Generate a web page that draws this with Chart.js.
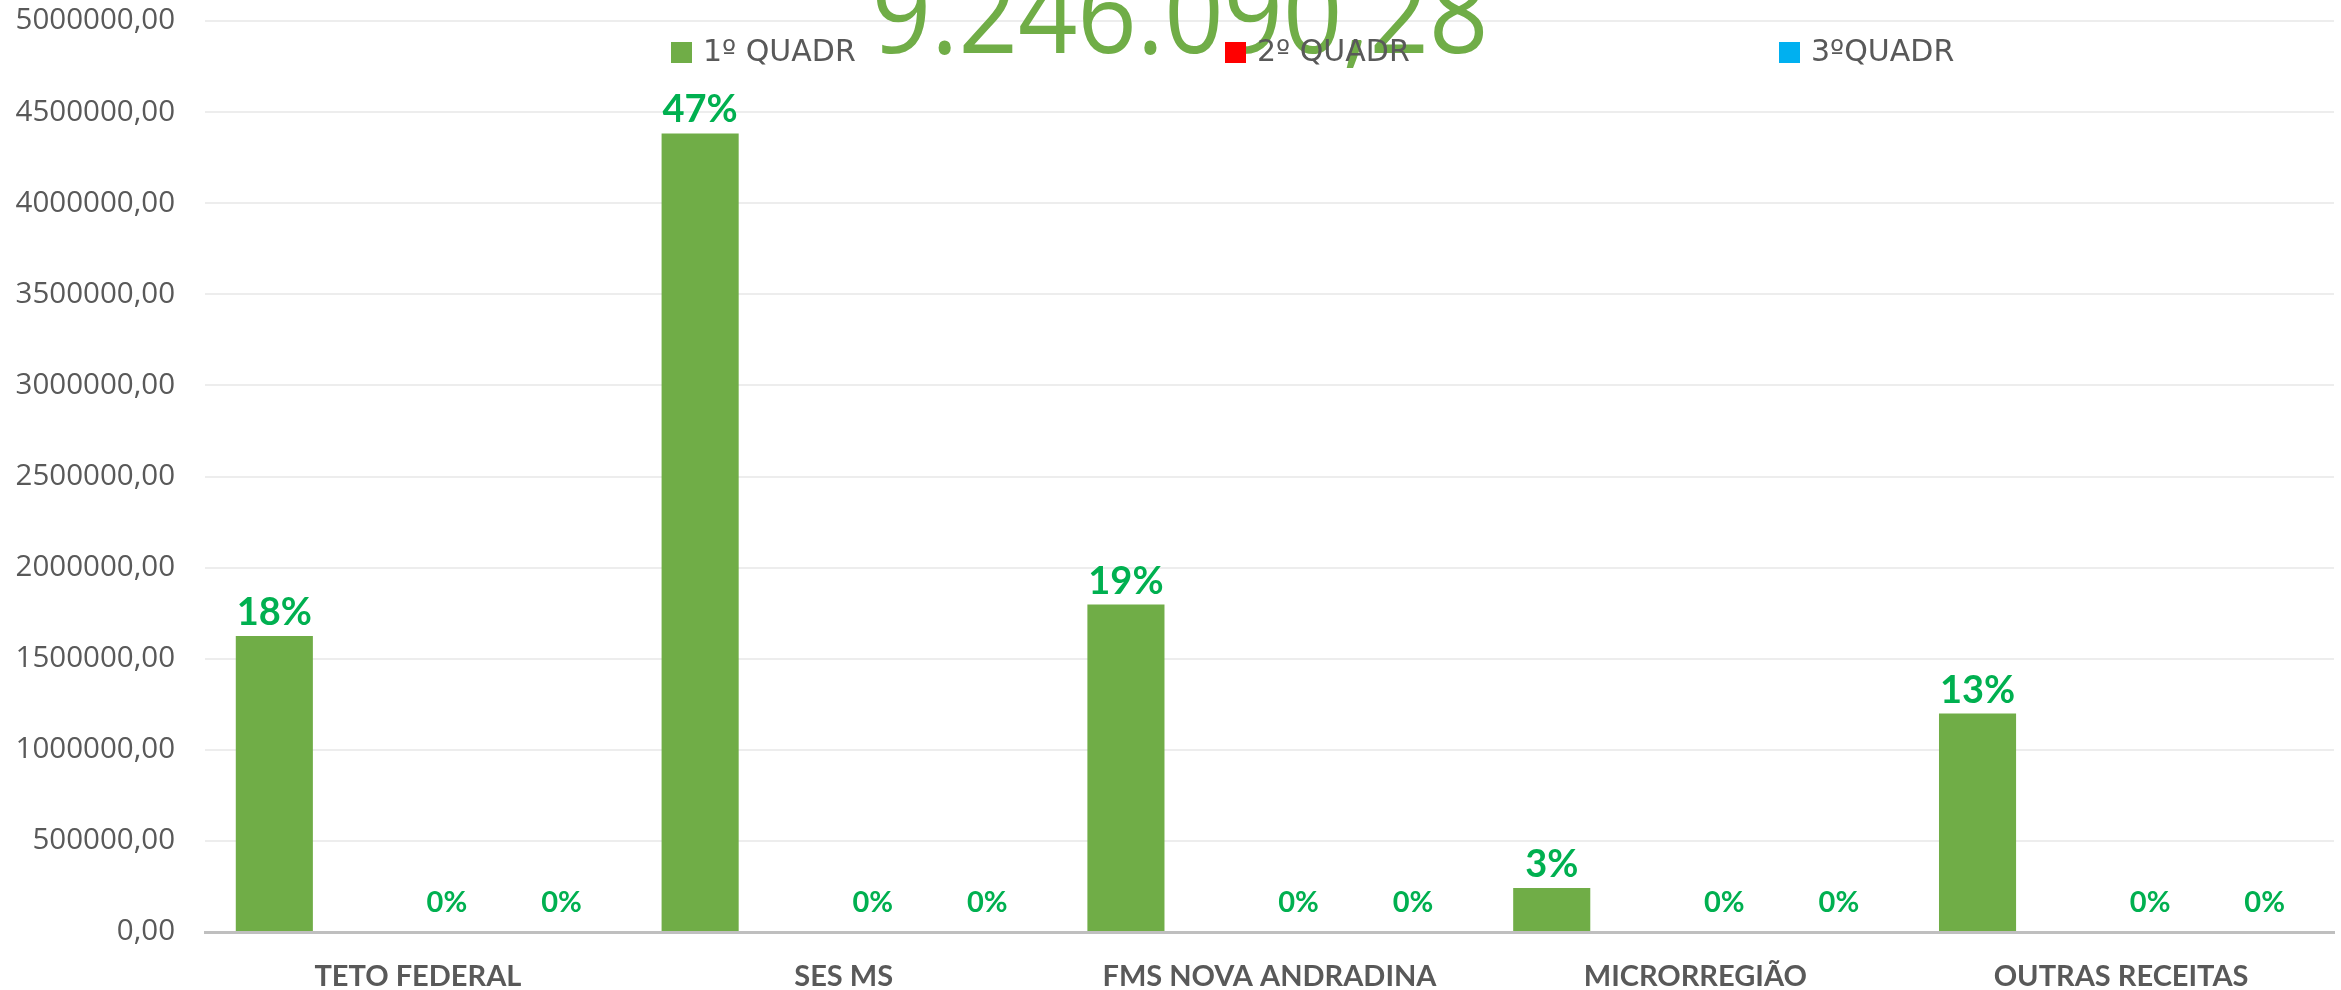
<!DOCTYPE html>
<html>
<head>
<meta charset="utf-8">
<script src="https://cdn.jsdelivr.net/npm/chart.js@4.4.0/dist/chart.umd.min.js"></script>
<style>
  html, body { margin: 0; padding: 0; background: #fff; }
  #wrap { width: 2341px; height: 990px; }
</style>
</head>
<body>
<div id="wrap"><canvas id="chart"></canvas></div>
<script>
const categories = ['TETO FEDERAL', 'SES MS', 'FMS NOVA ANDRADINA', 'MICRORREGIÃO', 'OUTRAS RECEITAS'];
const quad1 = [1625000, 4383000, 1797000, 242000, 1199090.28];
const quad2 = [0, 0, 0, 0, 0];
const quad3 = [0, 0, 0, 0, 0];
const seriesNames = ['1º QUADR', '2º QUADR', '3ºQUADR'];
const seriesColors = ['#70AD47', '#FF0000', '#00B0F0'];
const yMax = 5000000;
const yStep = 500000;

const total = [...quad1, ...quad2, ...quad3].reduce((a, b) => a + b, 0);

// 1234567.8 -> "1.234.567,80"
function brl(v, groups) {
  const parts = v.toFixed(2).split('.');
  let int = parts[0];
  if (groups) int = int.replace(/\B(?=(\d{3})+(?!\d))/g, '.');
  return int + ',' + parts[1];
}

const gray = '#595959';
const labelShift = [0, 29, 0];

const extras = {
  id: 'extras',
  afterDatasetsDraw(chart) {
    const ctx = chart.ctx;
    ctx.save();
    ctx.fillStyle = '#00B050';
    ctx.textAlign = 'center';
    ctx.textBaseline = 'alphabetic';
    chart.data.datasets.forEach((ds, i) => {
      chart.getDatasetMeta(i).data.forEach((bar, j) => {
        const v = ds.data[j];
        const txt = Math.round(v / total * 100) + '%';
        if (v > 0) {
          ctx.font = 'bold 38px Lato';
          ctx.fillText(txt, bar.x, bar.y - 11);
        } else {
          ctx.font = 'bold 29px Lato';
          ctx.fillText(txt, bar.x + labelShift[i], bar.y - 20);
        }
      });
    });
    ctx.restore();
  },
  afterDraw(chart) {
    const ctx = chart.ctx;
    ctx.save();
    // big total on top, partly cut off by the canvas edge
    ctx.fillStyle = '#70AD47';
    ctx.font = '104px "Open Sans"';
    ctx.textAlign = 'center';
    ctx.textBaseline = 'alphabetic';
    ctx.translate(1180, 53);
    ctx.scale(1, 1.1);
    ctx.fillText(brl(total, true), 0, 0);
    ctx.restore();

    // legend
    ctx.save();
    ctx.font = '30px "DejaVu Sans"';
    ctx.textAlign = 'left';
    ctx.textBaseline = 'middle';
    chart.data.datasets.forEach((ds, i) => {
      const x = 671 + i * 554;
      ctx.fillStyle = ds.backgroundColor;
      ctx.fillRect(x, 42, 21, 21);
      ctx.fillStyle = gray;
      ctx.fillText(ds.label, x + 32, 53);
    });
    ctx.restore();
  }
};

function noPad(scale) {
  scale.paddingTop = 0;
  scale.paddingBottom = 0;
  scale.paddingLeft = 0;
  scale.paddingRight = 0;
}

new Chart(document.getElementById('chart'), {
  type: 'bar',
  data: {
    labels: categories,
    datasets: [
      { label: seriesNames[0], data: quad1, backgroundColor: seriesColors[0] },
      { label: seriesNames[1], data: quad2, backgroundColor: seriesColors[1] },
      { label: seriesNames[2], data: quad3, backgroundColor: seriesColors[2] }
    ]
  },
  options: {
    responsive: true,
    maintainAspectRatio: false,
    animation: false,
    categoryPercentage: 1.0115,
    barPercentage: 0.537,
    layout: { padding: { top: 21, right: 7, left: 0, bottom: 0 } },
    plugins: {
      legend: { display: false },
      title: { display: false },
      tooltip: { enabled: false }
    },
    scales: {
      x: {
        grid: { display: false },
        border: { color: '#BFBFBF', width: 3 },
        ticks: { font: { family: 'Lato', weight: 'bold', size: 29 }, color: gray, padding: 19, maxRotation: 0 },
        afterFit(scale) { scale.height = 58; noPad(scale); }
      },
      y: {
        min: 0,
        max: yMax,
        border: { display: false },
        grid: { color: '#EDEDED', lineWidth: 2, drawTicks: false },
        ticks: {
          stepSize: yStep,
          padding: 30,
          color: gray,
          font: { family: 'Open Sans', size: 29.5 },
          callback: v => brl(v, false)
        },
        afterFit(scale) { scale.width = 205; noPad(scale); }
      }
    }
  },
  plugins: [extras]
});
</script>
</body>
</html>
